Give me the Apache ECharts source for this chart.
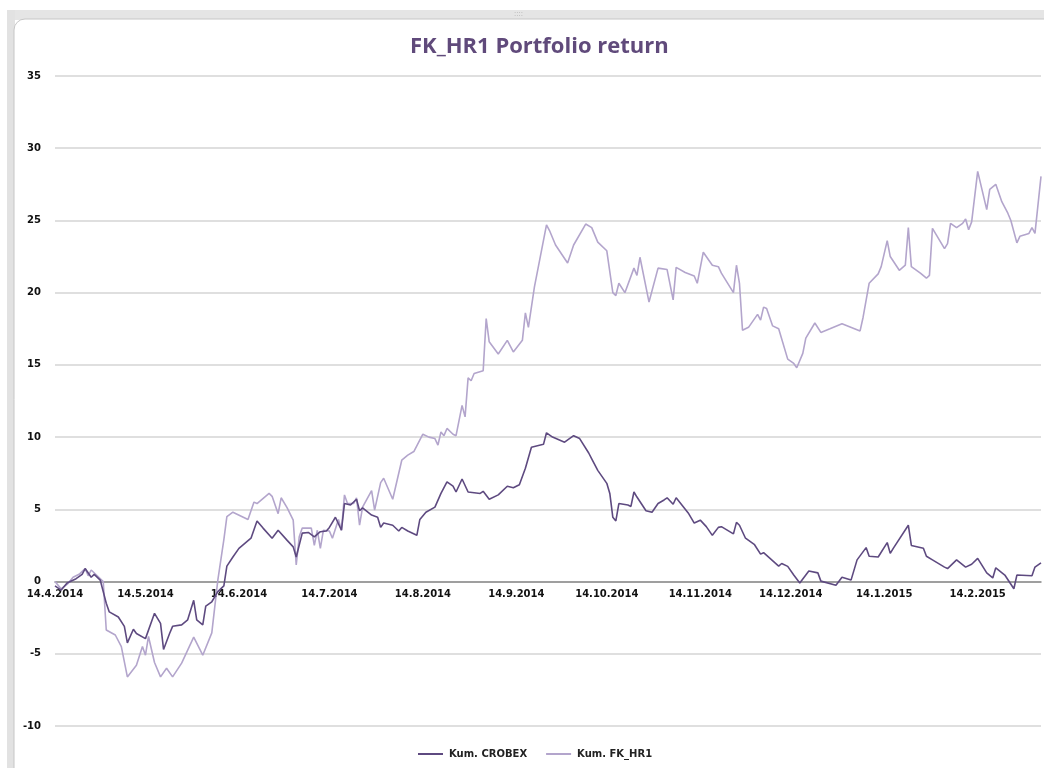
<!DOCTYPE html>
<html lang="en">
<head>
	<meta charset="UTF-8">
	<title>FK_HR1 Portfolio return</title>
	<script src="https://cdn.jsdelivr.net/npm/echarts@6/dist/echarts.min.js"></script>
	<style>
		html, body { margin: 0; padding: 0; background: #fff; }
		#chart { width: 1044px; height: 768px; }
	</style>
</head>
<body>
<div id="chart"></div>
<script>
	// first day on the axis and how many calendar days it spans
	var startDate = [2014, 3, 14];
	var dayCount = 328;

	// value axis ticks
	var yTicks = [-10, -5, 0, 5, 10, 15, 20, 25, 30, 35];

	// Kum. CROBEX : day offset from 14.4.2014 / cumulative return
	var crobexDay = [0, 2, 4, 7, 9, 10, 12, 13, 15, 17, 18, 21, 23, 24, 26, 27, 30, 33, 35, 36, 38, 39, 42, 44, 46, 47, 49, 50, 52, 54,
		56, 57, 59, 61, 65, 67, 69, 72, 74, 77, 79, 80, 82, 84, 86, 88, 90, 91, 93, 95, 96, 98, 100, 101, 102, 105, 107, 108, 109,
		112, 114, 115, 117, 120, 121, 123, 126, 128, 130, 132, 133, 135, 137, 141, 142, 144, 147, 150, 152, 154, 156, 158, 162,
		163, 165, 169, 172, 174, 177, 178, 180, 183, 184, 185, 186, 187, 190, 191, 192, 193, 196, 198, 200, 202, 203, 205, 206,
		210, 212, 214, 216, 218, 220, 221, 225, 226, 227, 229, 232, 234, 235, 240, 241, 243, 245, 247, 250, 253, 254, 259, 261,
		264, 266, 269, 270, 273, 276, 277, 278, 283, 284, 288, 289, 291, 295, 296, 299, 302, 304, 306, 309, 311, 312, 315, 318,
		319, 324, 325, 327];
	var crobexVal = [-0.3, -0.6, -0.1, 0.2, 0.5, 0.9, 0.3, 0.5, 0.1, -1.5, -2.1, -2.45, -3.1, -4.25, -3.3, -3.6, -3.95, -2.2, -2.9, -4.7, -3.6, -3.1, -3.0, -2.65, -1.3, -2.65, -3.0, -1.7, -1.4, -0.7,
		-0.3, 1.07, 1.7, 2.3, 3.0, 4.2, 3.7, 3.0, 3.55, 2.85, 2.4, 1.7, 3.35, 3.4, 3.1, 3.45, 3.5, 3.75, 4.45, 3.55, 5.4, 5.3, 5.7, 4.9, 5.1, 4.6, 4.45, 3.75, 4.05,
		3.9, 3.5, 3.75, 3.5, 3.2, 4.3, 4.8, 5.15, 6.1, 6.9, 6.6, 6.2, 7.1, 6.2, 6.1, 6.25, 5.7, 6.0, 6.6, 6.5, 6.7, 7.85, 9.3, 9.5,
		10.3, 10.0, 9.65, 10.1, 9.9, 8.9, 8.5, 7.7, 6.8, 6.1, 4.45, 4.2, 5.4, 5.3, 5.2, 6.2, 5.85, 4.9, 4.8, 5.4, 5.65, 5.8, 5.35, 5.8,
		4.75, 4.05, 4.25, 3.8, 3.2, 3.75, 3.8, 3.3, 4.1, 3.9, 3.0, 2.55, 1.9, 2.0, 1.07, 1.25, 1.05, 0.45, -0.1, 0.73, 0.6, 0.03, -0.25, 0.3,
		0.1, 1.5, 2.35, 1.75, 1.7, 2.7, 1.95, 2.3, 3.9, 2.5, 2.3, 1.75, 1.5, 1.0, 0.9, 1.5, 1.0, 1.2, 1.6, 0.6, 0.25, 0.95, 0.45, -0.5,
		0.45, 0.4, 1.0, 1.3];

	// Kum. FK_HR1 : day offset from 14.4.2014 / cumulative return
	var fkDay = [0, 2, 4, 6, 8, 10, 11, 12, 14, 16, 17, 20, 22, 24, 27, 29, 30, 31, 33, 35, 37, 39, 42, 46, 49, 52, 54, 56, 57, 59,
		64, 66, 67, 71, 72, 74, 75, 77, 79, 80, 81, 82, 85, 86, 87, 88, 89, 91, 92, 94, 95, 96, 97, 99, 100, 101, 102, 105, 106,
		108, 109, 112, 115, 117, 119, 122, 124, 126, 127, 128, 129, 130, 132, 133, 135, 136, 137, 138, 139, 142, 143, 144, 147,
		150, 152, 155, 156, 157, 159, 163, 164, 166, 170, 172, 176, 178, 180, 183, 185, 186, 187, 189, 192, 193, 194, 197, 200,
		203, 205, 206, 209, 212, 213, 215, 218, 220, 221, 225, 226, 227, 228, 230, 233, 234, 235, 236, 238, 240, 243, 245, 246,
		248, 249, 252, 254, 257, 261, 267, 268, 270, 273, 274, 276, 277, 280, 282, 283, 284, 287, 289, 290, 291, 295, 296, 297,
		299, 301, 302, 303, 304, 306, 309, 310, 312, 314, 316, 317, 319, 320, 323, 324, 325, 327];
	var fkVal = [0, -0.5, -0.2, 0.3, 0.5, 0.9, 0.4, 0.8, 0.4, 0, -3.35, -3.7, -4.5, -6.6, -5.8, -4.5, -5.1, -3.8, -5.6, -6.6, -6.0, -6.6, -5.65, -3.85, -5.1, -3.55, 0.1, 2.9, 4.5, 4.8,
		4.3, 5.5, 5.4, 6.1, 5.9, 4.7, 5.8, 5.1, 4.25, 1.15, 3.1, 3.7, 3.7, 2.5, 3.55, 2.3, 3.55, 3.5, 3.0, 4.3, 3.55, 6.0, 5.4, 5.4, 5.8, 3.9, 5.15, 6.3, 4.95,
		6.85, 7.15, 5.7, 8.4, 8.75, 9.0, 10.2, 10.0, 9.9, 9.45, 10.35, 10.1, 10.6, 10.2, 10.1, 12.2, 11.4, 14.1, 13.9, 14.4, 14.6, 18.2, 16.6, 15.75,
		16.7, 15.9, 16.7, 18.6, 17.6, 20.4, 24.7, 24.3, 23.3, 22.05, 23.3, 24.75, 24.5, 23.5, 22.9, 20.0, 19.8, 20.65, 20.0, 21.7, 21.2, 22.45, 19.35, 21.7,
		21.6, 19.5, 21.75, 21.4, 21.15, 20.65, 22.8, 21.9, 21.8, 21.35, 20.0, 21.9, 20.65, 17.4, 17.6, 18.5, 18.1, 19.0, 18.9, 17.7, 17.5, 15.4, 15.1, 14.8,
		15.8, 16.85, 17.9, 17.25, 17.5, 17.85, 17.35, 18.3, 20.65, 21.3, 21.8, 23.6, 22.5, 21.55, 21.9, 24.5, 21.8, 21.35, 21.0, 21.2, 24.45, 23.05, 23.4, 24.8,
		24.5, 24.8, 25.1, 24.35, 24.9, 28.4, 25.75, 27.15, 27.5, 26.3, 25.5, 25.0, 23.45, 23.9, 24.1, 24.5, 24.1, 28.05];

	function buildDates() {
		var list = [];
		var t0 = Date.UTC(startDate[0], startDate[1], startDate[2]);
		for (var i = 0; i < dayCount; i++) {
			var d = new Date(t0 + i * 86400000);
			list.push(d.getUTCDate() + '.' + (d.getUTCMonth() + 1) + '.' + d.getUTCFullYear());
		}
		return list;
	}

	function pairs(days, vals) {
		var out = [];
		for (var i = 0; i < days.length; i++) {
			out.push([days[i], vals[i]]);
		}
		return out;
	}

	var dates = buildDates();
	var labelFont = 'DejaVu Sans';

	// grid box; the category axis is lifted up to the zero line
	var gridTop = 76, gridBottom = 42;
	var gridH = 768 - gridTop - gridBottom;
	var zeroLift = gridH * (0 - yTicks[0]) / (yTicks[yTicks.length - 1] - yTicks[0]);

	var chart = echarts.init(document.getElementById('chart'));
	chart.setOption({
		animation: false,
		backgroundColor: '#fff',
		graphic: [
			{type: 'rect', z: -10, shape: {x: 7, y: 10, width: 1037, height: 10}, style: {fill: '#e5e5e5'}},
			{type: 'rect', z: -10, shape: {x: 7, y: 10, width: 8, height: 758}, style: {fill: '#e2e2e2'}},
			{type: 'rect', z: -9, shape: {x: 14, y: 19, width: 1045, height: 765, r: 11}, style: {fill: '#fff', stroke: '#c6c6c6', lineWidth: 1}},
			{type: 'text', z: -8, x: 514, y: 10, style: {text: '::::', fill: '#b0b0b0', font: '8px sans-serif'}}
		],
		title: {
			text: 'FK_HR1 Portfolio return',
			left: 405,
			top: 31,
			textStyle: {
				color: '#604A7B',
				fontFamily: 'Open Sans',
				fontWeight: 'bold',
				fontSize: 22
			}
		},
		legend: {
			top: 744,
			left: 413,
			icon: 'rect',
			itemWidth: 25,
			itemHeight: 2,
			itemGap: 19,
			textStyle: {color: '#222', fontFamily: labelFont, fontWeight: 'bold', fontSize: 10, padding: [0, 0, 0, 1]}
		},
		grid: {
			left: 55,
			right: 3,
			top: gridTop,
			bottom: gridBottom
		},
		xAxis: {
			type: 'category',
			data: dates,
			boundaryGap: false,
			offset: -zeroLift,
			axisLine: {onZero: false, lineStyle: {color: '#8a8a8a', width: 1.5}},
			axisTick: {show: false},
			axisLabel: {
				interval: 0,
				hideOverlap: false,
				formatter: function (val) {
					return val.indexOf('14.') === 0 ? val : '';
				},
				margin: 8,
				color: '#111',
				fontFamily: labelFont,
				fontWeight: 'bold',
				fontSize: 10
			},
			splitLine: {show: false}
		},
		yAxis: {
			type: 'value',
			min: yTicks[0],
			max: yTicks[yTicks.length - 1],
			interval: 5,
			axisLine: {show: false},
			axisTick: {show: false},
			axisLabel: {
				margin: 14,
				color: '#111',
				fontFamily: labelFont,
				fontWeight: 'bold',
				fontSize: 10
			},
			splitLine: {lineStyle: {color: '#d4d4d4', width: 1.5}}
		},
		series: [
			{
				name: 'Kum. CROBEX',
				type: 'line',
				symbol: 'none',
				z: 3,
				data: pairs(crobexDay, crobexVal),
				lineStyle: {color: '#5E4A80', width: 1.6},
				itemStyle: {color: '#5E4A80'}
			},
			{
				name: 'Kum. FK_HR1',
				type: 'line',
				symbol: 'none',
				z: 2,
				data: pairs(fkDay, fkVal),
				lineStyle: {color: '#B3A5CC', width: 1.6},
				itemStyle: {color: '#B3A5CC'}
			}
		]
	});
</script>
</body>
</html>
